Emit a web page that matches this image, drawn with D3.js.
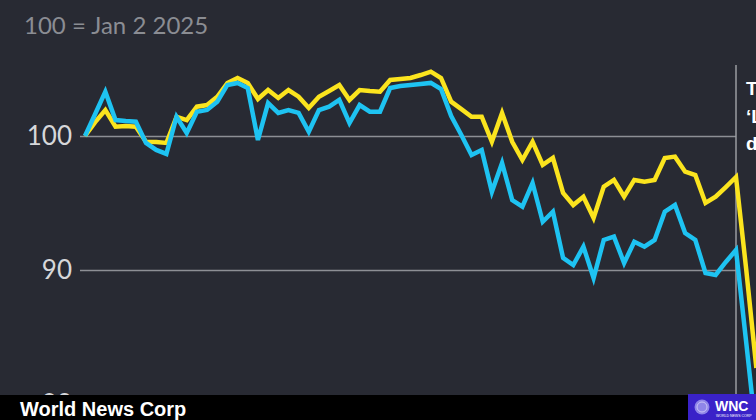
<!DOCTYPE html>
<html>
<head>
<meta charset="utf-8">
<script src="https://cdn.jsdelivr.net/npm/d3@7"></script>
<style>
  html, body { margin: 0; padding: 0; background: #282a33; overflow: hidden; }
  svg { display: block; }
</style>
</head>
<body>
<div id="chart"></div>
<script>
// index 0 = Jan 2 2025, one step per trading day, 64 = Apr 2
var yellow = [100.00, 101.04, 101.94, 100.69, 100.75, 100.69, 99.57, 99.55, 99.48, 101.44,
  101.19, 102.19, 102.31, 102.93, 103.96, 104.33, 103.96, 102.76, 103.43, 102.84,
  103.43, 102.93, 102.09, 102.93, 103.36, 103.81, 102.69, 103.43, 103.36, 103.31,
  104.18, 104.25, 104.33, 104.55, 104.80, 104.33, 102.56, 102.01, 101.44, 101.44,
  99.57, 101.72, 99.57, 98.21, 99.57, 97.84, 98.36, 95.75, 94.85, 95.47,
  93.88, 96.22, 96.72, 95.47, 96.72, 96.59, 96.72, 98.36, 98.46, 97.34,
  97.09, 95.00, 95.47, 96.19, 96.94, 90.07, 82.69];

var cyan = [100.00, 101.64, 103.31, 101.19, 101.12, 101.07, 99.48, 98.96, 98.66, 101.44,
  100.22, 101.81, 101.94, 102.56, 103.81, 103.96, 103.58, 99.70, 102.46, 101.72,
  101.94, 101.72, 100.32, 101.94, 102.19, 102.69, 100.97, 102.31, 101.81, 101.81,
  103.58, 103.73, 103.81, 103.88, 103.96, 103.51, 101.49, 100.07, 98.58, 98.96,
  95.84, 97.99, 95.22, 94.72, 96.49, 93.60, 94.35, 90.90, 90.37, 91.74,
  89.40, 92.24, 92.49, 90.52, 92.11, 91.74, 92.24, 94.35, 94.85, 92.76,
  92.24, 89.78, 89.63, 90.60, 91.49, 84.63, 77.61];

var yTicks = [80, 90, 100];
var markerIndex = 64;
var title = "100 = Jan 2 2025";
var noteLines = ["Trump\u2019s", "\u2018Liberation", "day\u2019 tariffs"];
var footer = "World News Corp";

var width = 756, height = 420;

var svg = d3.select("#chart")
  .append("svg")
  .attr("width", width)
  .attr("height", height);

svg.append("rect")
  .attr("width", width)
  .attr("height", height)
  .attr("fill", "#282a33");

var x = d3.scaleLinear().domain([0, markerIndex]).range([85, 736]);
var y = d3.scaleLinear().domain([90, 100]).range([270, 136]);

// title
svg.append("text")
  .attr("x", 24)
  .attr("y", 34)
  .attr("fill", "#8b8d93")
  .style("font-family", "Lato, 'Open Sans', sans-serif")
  .style("font-size", "24px")
  .text(title);

// y axis with gridlines
var yAxis = svg.append("g")
  .attr("transform", "translate(80,0)")
  .call(d3.axisLeft(y).tickValues(yTicks).tickSize(-(x(markerIndex) - 80)).tickPadding(8).tickFormat(d3.format("d")));
yAxis.select(".domain").remove();
yAxis.selectAll(".tick line")
  .attr("stroke", "#8d8f95")
  .attr("stroke-width", 1.5);
yAxis.selectAll(".tick text")
  .attr("fill", "#d6d7da")
  .style("font-family", "Lato, 'Open Sans', sans-serif")
  .style("font-size", "26px");

// marker line
svg.append("line")
  .attr("x1", x(markerIndex)).attr("x2", x(markerIndex))
  .attr("y1", 65).attr("y2", 396)
  .attr("stroke", "#9a9ca2")
  .attr("stroke-width", 1.5);

var note = svg.append("text")
  .attr("x", x(markerIndex) + 10)
  .attr("y", 95)
  .attr("fill", "#ffffff")
  .style("font-family", "'Liberation Sans', Arial, sans-serif")
  .style("font-weight", "bold")
  .style("font-size", "19px");
note.selectAll("tspan")
  .data(noteLines)
  .enter().append("tspan")
  .attr("x", x(markerIndex) + 10)
  .attr("dy", function(d, i){ return i ? 27.5 : 0; })
  .text(function(d){ return d; });

var line = d3.line()
  .x(function(d, i){ return x(i); })
  .y(function(d){ return y(d); });

svg.append("path")
  .datum(yellow)
  .attr("d", line)
  .attr("fill", "none")
  .attr("stroke", "#fbe41e")
  .attr("stroke-width", 4.5);

svg.append("path")
  .datum(cyan)
  .attr("d", line)
  .attr("fill", "none")
  .attr("stroke", "#1ec3f2")
  .attr("stroke-width", 4.5);

// footer bar
svg.append("rect")
  .attr("x", 0).attr("y", 395)
  .attr("width", width).attr("height", 25)
  .attr("fill", "#000000");

svg.append("text")
  .attr("x", 20)
  .attr("y", 416)
  .attr("fill", "#ffffff")
  .style("font-family", "'Liberation Sans', Arial, sans-serif")
  .style("font-weight", "bold")
  .style("font-size", "20px")
  .text(footer);

// logo
var logo = svg.append("g").attr("transform", "translate(688,394)");
logo.append("rect")
  .attr("width", 68).attr("height", 26)
  .attr("fill", "#3a22c8");
logo.append("circle")
  .attr("cx", 14).attr("cy", 13).attr("r", 7.5)
  .attr("fill", "#8f85e8");
logo.append("circle")
  .attr("cx", 14).attr("cy", 13).attr("r", 5)
  .attr("fill", "none")
  .attr("stroke", "#c9c3f5")
  .attr("stroke-width", 1);
logo.append("text")
  .attr("x", 27).attr("y", 17)
  .attr("fill", "#ffffff")
  .style("font-family", "'Liberation Sans', Arial, sans-serif")
  .style("font-weight", "bold")
  .style("font-size", "14px")
  .text("WNC");
logo.append("text")
  .attr("x", 28).attr("y", 23)
  .attr("fill", "#ffffff")
  .style("font-family", "'Liberation Sans', Arial, sans-serif")
  .style("font-size", "3.5px")
  .text("WORLD NEWS CORP");
</script>
</body>
</html>
